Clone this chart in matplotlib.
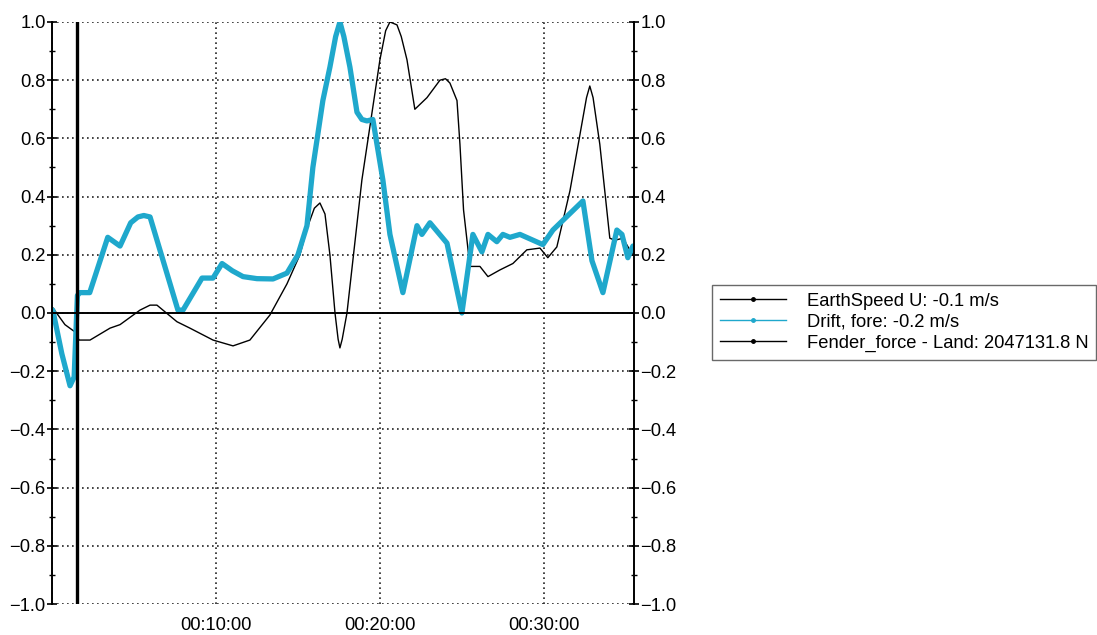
import matplotlib
matplotlib.use('Agg')
import matplotlib.pyplot as plt
from matplotlib.lines import Line2D
from matplotlib.ticker import MultipleLocator, FuncFormatter

plt.rcParams['font.family'] = ['Liberation Sans', 'DejaVu Sans']

# time in minutes, values normalised (-1..1)
drift_t = [0.0, 0.05, 0.6, 1.1, 1.35, 1.55, 1.7, 2.3, 3.4, 4.15, 4.8, 5.24, 5.6, 5.98, 7.68, 7.99,
           9.15, 9.82, 10.37, 11.0, 11.65, 12.5, 13.48, 14.33, 15.0, 15.55, 15.91, 16.52, 16.95,
           17.3, 17.56, 17.8, 18.17, 18.6, 18.9, 19.21, 19.57, 20.18, 20.61, 21.4, 22.26, 22.56, 23.05,
           24.09, 25.0, 25.67, 26.22, 26.59, 27.13, 27.5, 27.93, 28.54, 29.94, 30.55,
           32.38, 32.93, 33.6, 34.45, 34.76, 35.12, 35.43]
drift_v = [0.0, 0.01, -0.14, -0.25, -0.22, 0.06, 0.07, 0.07, 0.26, 0.23, 0.31, 0.33, 0.335, 0.33, 0.01, 0.01,
           0.12, 0.12, 0.17, 0.145, 0.125, 0.118, 0.117, 0.137, 0.2, 0.3, 0.5, 0.73, 0.845,
           0.95, 1.0, 0.95, 0.845, 0.69, 0.665, 0.66, 0.665, 0.457, 0.27, 0.07, 0.30, 0.27, 0.31,
           0.24, 0.0, 0.27, 0.21, 0.27, 0.245, 0.27, 0.26, 0.27, 0.235, 0.285,
           0.385, 0.18, 0.07, 0.285, 0.27, 0.19, 0.23]

fender_t = [0.06, 0.79, 1.4, 1.65, 2.32, 3.54, 4.15, 5.37, 5.98, 6.4, 7.62, 8.41, 9.82,
            11.04, 12.07, 13.29, 14.33, 15.12, 15.55, 16.0, 16.34, 16.65, 16.95, 17.26, 17.45, 17.56,
            17.7, 17.99, 18.9, 20.0, 20.35, 20.61, 21.04, 21.3, 21.65, 22.13, 22.87, 23.66, 24.0, 24.27, 24.7,
            24.88, 25.1, 25.49, 26.1, 26.59, 27.32, 28.11, 28.96, 29.76, 30.24, 30.79,
            31.59, 32.6, 32.8, 33.0, 33.41, 34.02, 34.33, 34.82, 35.24, 35.49]
fender_v = [0.017, -0.04, -0.065, -0.093, -0.093, -0.052, -0.04, 0.01, 0.027, 0.027, -0.03, -0.052, -0.093,
            -0.113, -0.093, -0.007, 0.10, 0.2, 0.29, 0.36, 0.378, 0.34, 0.2, 0.0, -0.09, -0.12,
            -0.09, 0.0, 0.457, 0.87, 0.97, 1.0, 0.99, 0.95, 0.87, 0.70, 0.74, 0.80, 0.805, 0.79, 0.73,
            0.58, 0.354, 0.16, 0.16, 0.125, 0.148, 0.17, 0.217, 0.223, 0.19, 0.227,
            0.42, 0.74, 0.78, 0.74, 0.58, 0.257, 0.25, 0.257, 0.217, 0.2]

cursor_t = 1.52  # vertical cursor line
legend_labels = ['EarthSpeed U: -0.1 m/s', 'Drift, fore: -0.2 m/s',
                 'Fender_force - Land: 2047131.8 N']
blue = '#1fa8cc'

fig = plt.figure(figsize=(10.97, 6.35), dpi=100)
ax = fig.add_axes([0.0474, 0.0488, 0.5306, 0.9166])

ax.plot(fender_t, fender_v, color='black', lw=1.0, solid_joinstyle='round')
ax.plot(drift_t, drift_v, color=blue, lw=3.8, solid_joinstyle='round', solid_capstyle='round')
ax.axhline(0, color='black', lw=1.4)
ax.axvline(cursor_t, color='black', lw=2.4)

ax.set_xlim(0, 35.5)
ax.set_ylim(-1.0, 1.0)
ax.xaxis.set_major_locator(MultipleLocator(10))
ax.xaxis.set_major_formatter(FuncFormatter(lambda m, p: '' if m <= 0 else '00:%02d:00' % int(round(m))))
ax.yaxis.set_major_locator(MultipleLocator(0.2))
ax.yaxis.set_minor_locator(MultipleLocator(0.1))
ax.yaxis.set_major_formatter(FuncFormatter(
    lambda v, p: ('%.1f' % v).replace('-', '\u2212') if abs(v) > 1e-9 else '0.0'))
ax.grid(True, which='major', color='#222222', linestyle=(0, (1, 2)), lw=1.2)

for s in ['top', 'bottom']:
    ax.spines[s].set_visible(False)
for s in ['left', 'right']:
    ax.spines[s].set_linewidth(1.4)

ax.tick_params(axis='x', length=0, labelsize=13.2, pad=9)
ax.tick_params(axis='y', which='both', direction='inout', left=True, right=True,
               labelleft=True, labelright=True, labelsize=13.2, pad=1)
ax.tick_params(axis='y', which='major', length=7, width=1.2)
ax.tick_params(axis='y', which='minor', length=5, width=1.0)

handles = [Line2D([], [], color='black', lw=1.0, marker='o', ms=2.5),
           Line2D([], [], color=blue, lw=1.0, marker='o', ms=2.5),
           Line2D([], [], color='black', lw=1.0, marker='o', ms=2.5)]
leg = fig.legend(handles, legend_labels, loc='upper left', bbox_to_anchor=(0.649, 0.551),
                 fontsize=13.2, frameon=True, fancybox=False, numpoints=1,
                 handlelength=3.6, handletextpad=1.15, labelspacing=0.22,
                 borderpad=0.42, borderaxespad=0)
leg.get_frame().set_edgecolor('#444444')
leg.get_frame().set_linewidth(1.0)

fig.savefig('out.png', dpi=100)
